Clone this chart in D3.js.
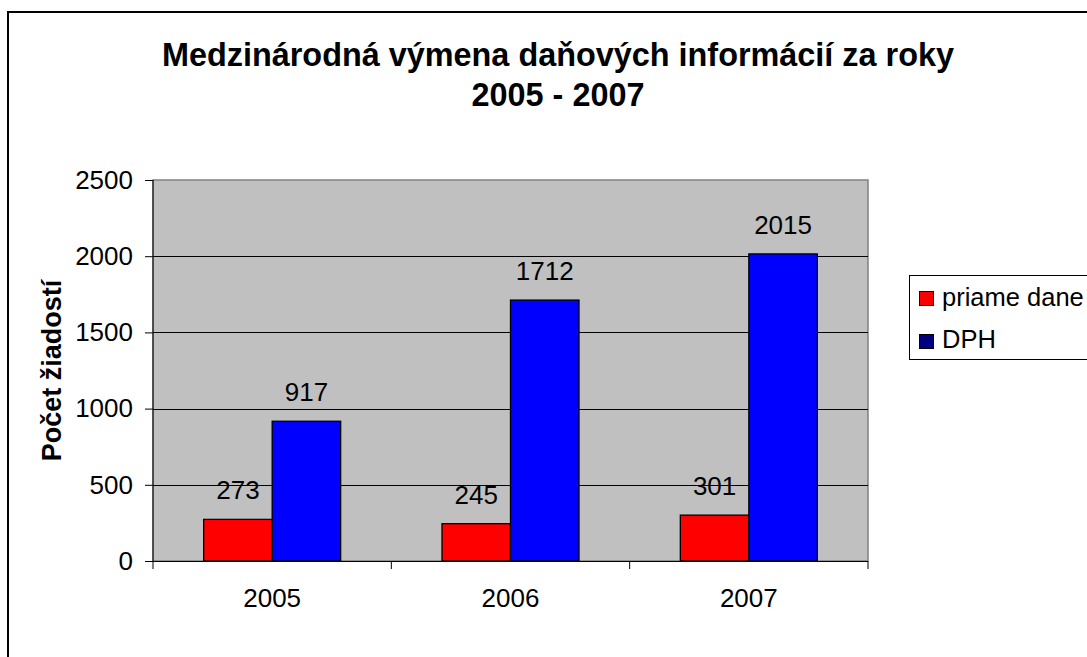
<!DOCTYPE html>
<html>
<head>
<meta charset="utf-8">
<script src="https://cdn.jsdelivr.net/npm/d3@7"></script>
<style>
  html, body { margin: 0; padding: 0; background: #fff; }
  svg { display: block; font-family: Arial, "Liberation Sans", sans-serif; }
</style>
</head>
<body>
<svg id="chart" width="1087" height="657"></svg>
<script>
const categories = ["2005", "2006", "2007"];
const seriesNames = ["priame dane", "DPH"];
const priameDane = [273, 245, 301];
const dph = [917, 1712, 2015];
const yTicks = [0, 500, 1000, 1500, 2000, 2500];
const titleLines = ["Medzinárodná výmena daňových informácií za roky", "2005 - 2007"];
const yTitle = "Počet žiadostí";

const barColors = ["#FF0000", "#0000FF"];
const legendColors = ["#FF0000", "#000080"];

const svg = d3.select("#chart");
const plot = { left: 153, top: 180, right: 868, bottom: 561 };

// outer chart border
svg.append("rect").attr("x", 8).attr("y", 12).attr("width", 1100).attr("height", 700)
  .attr("fill", "#fff").attr("stroke", "#000").attr("stroke-width", 2);

const x = d3.scaleBand().domain(categories).range([plot.left, plot.right]).paddingInner(0).paddingOuter(0);
const y = d3.scaleLinear().domain([0, 2500]).range([plot.bottom, plot.top]);
const barW = 68.5;

// plot area
svg.append("rect").attr("x", plot.left).attr("y", plot.top)
  .attr("width", plot.right - plot.left).attr("height", plot.bottom - plot.top)
  .attr("fill", "#C0C0C0").attr("stroke", "#808080").attr("stroke-width", 1.5);

// gridlines
svg.append("g").selectAll("line").data(yTicks.filter(d => d > 0 && d < 2500)).join("line")
  .attr("x1", plot.left).attr("x2", plot.right)
  .attr("y1", d => Math.round(y(d)) + 0.5).attr("y2", d => Math.round(y(d)) + 0.5)
  .attr("stroke", "#000").attr("stroke-width", 1);

// bars
const series = [priameDane, dph];
series.forEach((vals, si) => {
  svg.append("g").selectAll("rect").data(vals).join("rect")
    .attr("x", (d, i) => x(categories[i]) + x.bandwidth() / 2 + (si - 1) * barW)
    .attr("y", d => y(d))
    .attr("width", barW)
    .attr("height", d => y(0) - y(d))
    .attr("fill", barColors[si]).attr("stroke", "#000").attr("stroke-width", 1.3);
  svg.append("g").selectAll("text").data(vals).join("text")
    .attr("x", (d, i) => x(categories[i]) + x.bandwidth() / 2 + (si - 0.5) * barW)
    .attr("y", d => y(d) - 20)
    .attr("text-anchor", "middle").attr("font-size", 26).attr("fill", "#000")
    .text(d => d);
});

// y axis
const yAxis = d3.axisLeft(y).tickValues(yTicks).tickSize(8).tickPadding(12).tickFormat(d3.format("d"));
const gy = svg.append("g").attr("transform", `translate(${plot.left},0)`).call(yAxis);
gy.select(".domain").attr("stroke", "#000").attr("d", `M0,${plot.top}V${plot.bottom}`);
gy.selectAll(".tick line").attr("stroke", "#000");
gy.selectAll("text").attr("font-size", 26).attr("font-family", "Arial, 'Liberation Sans', sans-serif").attr("fill", "#000");

// x axis
const boundaries = [plot.left, ...categories.map(c => x(c) + x.bandwidth())];
const gx = svg.append("g");
gx.append("line").attr("x1", plot.left).attr("x2", plot.right)
  .attr("y1", plot.bottom + 0.5).attr("y2", plot.bottom + 0.5).attr("stroke", "#000");
gx.selectAll("line.tk").data(boundaries).join("line").attr("class", "tk")
  .attr("x1", d => d).attr("x2", d => d)
  .attr("y1", plot.bottom).attr("y2", plot.bottom + 8).attr("stroke", "#000");
gx.selectAll("text").data(categories).join("text")
  .attr("x", d => x(d) + x.bandwidth() / 2).attr("y", 607)
  .attr("text-anchor", "middle").attr("font-size", 26).attr("fill", "#000")
  .text(d => d);

// title
svg.append("g").selectAll("text").data(titleLines).join("text")
  .attr("x", 558).attr("y", (d, i) => 66 + i * 40)
  .attr("text-anchor", "middle").attr("font-size", 32.4).attr("font-weight", "bold")
  .text(d => d);

// y title
svg.append("text").attr("transform", "translate(61,370.5) rotate(-90)")
  .attr("text-anchor", "middle").attr("font-size", 27).attr("font-weight", "bold")
  .text(yTitle);

// legend
const lg = svg.append("g");
lg.append("rect").attr("x", 909.5).attr("y", 275.5).attr("width", 200).attr("height", 84)
  .attr("fill", "#fff").attr("stroke", "#000").attr("stroke-width", 1);
seriesNames.forEach((name, i) => {
  lg.append("rect").attr("x", 919.5).attr("y", 291.5 + i * 43).attr("width", 14).attr("height", 14)
    .attr("fill", legendColors[i]).attr("stroke", "#000").attr("stroke-width", 1);
  lg.append("text").attr("x", 942).attr("y", 306 + i * 42).attr("font-size", 25.5).text(name);
});
</script>
</body>
</html>
